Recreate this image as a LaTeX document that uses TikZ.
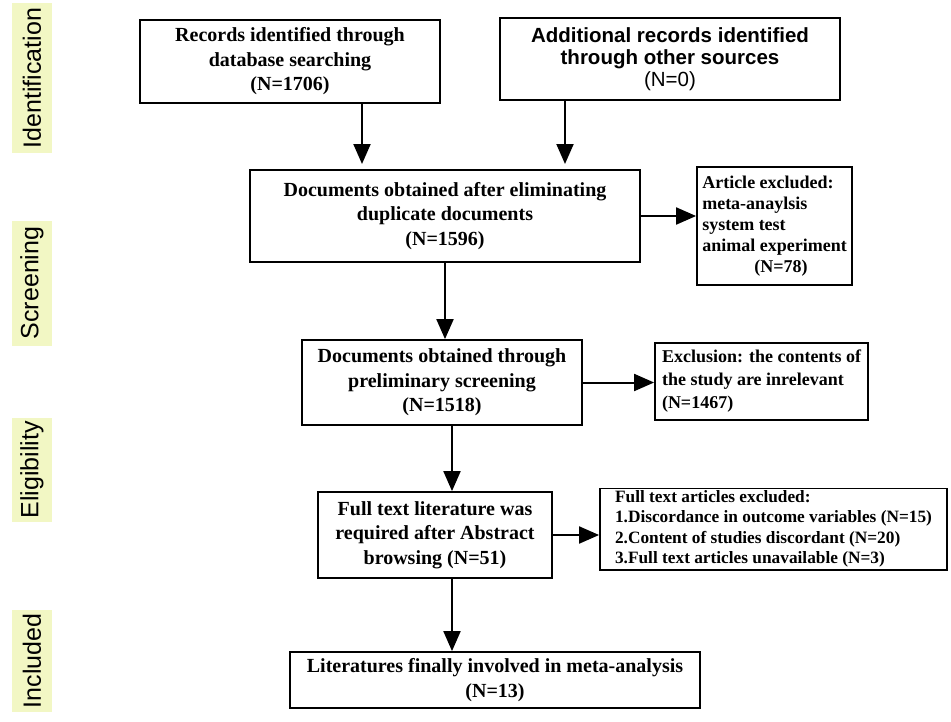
\documentclass[tikz,border=0pt]{standalone}
\usepackage{fontspec}
\setmainfont{Liberation Serif}
\newfontfamily\lsans{Liberation Sans}
\usetikzlibrary{arrows.meta}
\definecolor{phase}{HTML}{F2F7C4}
\begin{document}
\begin{tikzpicture}[x=1pt,y=-1pt,
  bx/.style={draw,line width=1.8pt,inner sep=2pt,align=center,font=\bfseries\fontsize{20}{24.5}\selectfont},
  phasebox/.style={fill=phase,rotate=90,font=\lsans\fontsize{25}{28}\selectfont,inner sep=3pt},
  arr/.style={line width=2pt,-{Triangle[length=20pt,width=17pt]}}]
\useasboundingbox (0,0) rectangle (951,721);
\node[phasebox,minimum width=150,minimum height=40] (p1) at (32,78) {Identification};
\node[phasebox,minimum width=125,minimum height=40] (p2) at (32,283) {Screening};
\node[phasebox,minimum width=100,minimum height=40] (p3) at (32,470) {Eligibility};
\node[phasebox,minimum width=102,minimum height=40] (p4) at (32,661) {Included};

\node[bx,minimum width=300,minimum height=83] (b1) at (290,61.5) {Records identified through\\database searching\\(N=1706)};
\node[bx,minimum width=340,minimum height=82,font=\lsans\bfseries\fontsize{20.5}{22}\selectfont] (b2) at (670,59) {Additional records identified\\through other sources\\{\mdseries (N=0)}};
\node[bx,minimum width=390,minimum height=92] (b3) at (445,216) {Documents obtained after eliminating\\duplicate documents\\(N=1596)};
\node[bx,minimum width=155,minimum height=118,align=left,font=\bfseries\fontsize{18}{21}\selectfont] (b4) at (774.5,226) {Article excluded:\\meta-anaylsis\\system test\\animal experiment\\\hspace*{2.9em}(N=78)};
\node[bx,minimum width=213,minimum height=77,align=left,font=\bfseries\fontsize{18}{23}\selectfont] (b6) at (761.5,381.5) {Exclusion: the contents of\\the study are inrelevant\\(N=1467)};
\node[bx,minimum width=280,minimum height=85] (b5) at (442,382.5) {Documents obtained through\\preliminary screening\\(N=1518)};
\node[bx,minimum width=234,minimum height=86] (b7) at (435,535) {Full text literature was\\required after Abstract\\browsing (N=51)};
\node[bx,minimum width=347,minimum height=72,align=left,font=\bfseries\fontsize{17.3}{20.5}\selectfont] (b8) at (773.5,529) {Full text articles excluded:\\1.Discordance in outcome variables (N=15)\\2.Content of studies discordant (N=20)\\3.Full text articles unavailable (N=3)};
\node[bx,minimum width=410,minimum height=56] (b9) at (495,680) {Literatures finally involved in meta-analysis\\(N=13)};

\draw[arr] (b1.south -| 362,0) -- (362,164);
\draw[arr] (b2.south -| 565,0) -- (565,164);
\draw[arr] (b3.east) -- (b4.west |- b3.east);
\draw[arr] (b3.south -| 445,0) -- (b5.north -| 445,0);
\draw[arr] (b5.east) -- (b6.west |- b5.east);
\draw[arr] (b5.south -| 452,0) -- (b7.north -| 452,0);
\draw[arr] (b7.east) -- (b8.west |- b7.east);
\draw[arr] (b7.south -| 452,0) -- (b9.north -| 452,0);
\end{tikzpicture}
\end{document}
